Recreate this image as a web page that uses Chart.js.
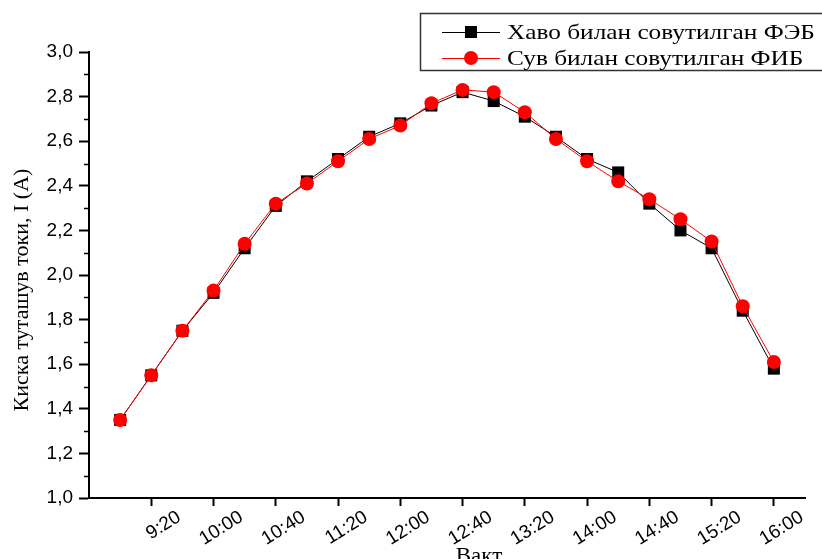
<!DOCTYPE html>
<html><head><meta charset="utf-8">
<script src="https://cdn.jsdelivr.net/npm/chart.js@4.4.0/dist/chart.umd.min.js"></script>
<style>html,body{margin:0;padding:0;background:#fff;overflow:hidden}#wrap{width:822px;height:559px;position:relative}canvas{display:block}</style>
</head><body><div id="wrap"><canvas id="c" width="822" height="559"></canvas></div>
<script>
const timeLabels = ['9:00','9:20','9:40','10:00','10:20','10:40','11:00','11:20','11:40','12:00','12:20','12:40','13:00','13:20','13:40','14:00','14:20','14:40','15:00','15:20','15:40','16:00'];
const airCooled = [1.35,1.55,1.75,1.92,2.12,2.31,2.42,2.52,2.62,2.68,2.76,2.82,2.78,2.71,2.62,2.52,2.46,2.32,2.20,2.12,1.84,1.58];
const waterCooled = [1.35,1.55,1.75,1.93,2.14,2.32,2.41,2.51,2.61,2.67,2.77,2.83,2.82,2.73,2.61,2.51,2.42,2.34,2.25,2.15,1.86,1.61];
const seriesNames = ['Хаво билан совутилган ФЭБ','Сув билан совутилган ФИБ'];
const xTickLabels = ['9:20','10:00','10:40','11:20','12:00','12:40','13:20','14:00','14:40','15:20','16:00'];
const yTickValues = [1.0,1.2,1.4,1.6,1.8,2.0,2.2,2.4,2.6,2.8,3.0];
const xTitle = 'Вакт';
const yTitle = 'Киска туташув токи, I (A)';
const xRange = ['8:40','16:20'];
const yRange = [1.0, 3.0];

const toMin = s => { const [h,m] = s.split(':').map(Number); return h*60+m; };
const fmtTime = v => Math.floor(v/60) + ':' + String(v%60).padStart(2,'0');
const pts = arr => arr.map((v,i) => ({x: toMin(timeLabels[i]), y: v}));

const extras = {
  id: 'extras',
  afterDraw(chart) {
    const ctx = chart.ctx, ys = chart.scales.y, ca = chart.chartArea;
    ctx.save();
    ctx.strokeStyle = '#000'; ctx.lineWidth = 1.5;
    for (let i = 0; i < yTickValues.length - 1; i++) {
      const v = (yTickValues[i] + yTickValues[i+1]) / 2;
      const py = Math.round(ys.getPixelForValue(v)) + 0.5;
      ctx.beginPath(); ctx.moveTo(ca.left - 5, py); ctx.lineTo(ca.left, py); ctx.stroke();
    }
    ctx.fillStyle = '#000';
    ctx.font = '22px "Liberation Serif"';
    ctx.textAlign = 'center'; ctx.textBaseline = 'middle';
    ctx.save(); ctx.translate(22, 290); ctx.rotate(-Math.PI/2); ctx.fillText(yTitle, 0, 0); ctx.restore();
    ctx.textBaseline = 'top';
    ctx.font = '23px "Liberation Serif"';
    ctx.fillText(xTitle, 479, 545);
    ctx.strokeStyle = '#333'; ctx.lineWidth = 1.5;
    ctx.strokeRect(420.5, 13.5, 420, 57);
    const rows = [32, 58];
    chart.data.datasets.forEach(ds => {
      const idx = seriesNames.indexOf(ds.label);
      const y = rows[idx];
      ctx.strokeStyle = ds.borderColor; ctx.lineWidth = 1;
      ctx.beginPath(); ctx.moveTo(442, y + 0.5); ctx.lineTo(500, y + 0.5); ctx.stroke();
      ctx.fillStyle = ds.backgroundColor;
      if (ds.pointStyle === 'rect') { ctx.fillRect(465, y - 6, 12, 12); }
      else { ctx.beginPath(); ctx.arc(471, y, 7, 0, Math.PI*2); ctx.fill(); }
      ctx.fillStyle = '#000';
      ctx.font = '22px "Liberation Serif"';
      ctx.textAlign = 'left'; ctx.textBaseline = 'middle';
      ctx.save(); ctx.translate(507, y + 1); ctx.scale(1.15, 1);
      ctx.fillText(ds.label, 0, 0);
      ctx.restore();
    });
    ctx.restore();
  }
};

new Chart(document.getElementById('c'), {
  type: 'line',
  data: {
    datasets: [
      { label: seriesNames[0], data: pts(airCooled), borderColor: '#000', backgroundColor: '#000', borderWidth: 1,
        pointStyle: 'rect', pointRadius: 8.5, pointHoverRadius: 8.5, pointBorderWidth: 0, order: 1 },
      { label: seriesNames[1], data: pts(waterCooled), borderColor: '#ff0000', backgroundColor: '#ff0000', borderWidth: 1,
        pointStyle: 'circle', pointRadius: 7, pointHoverRadius: 7, pointBorderWidth: 0, order: 0 }
    ]
  },
  options: {
    responsive: false, animation: false, devicePixelRatio: 1,
    layout: { padding: { top: 52, right: 17, left: 0, bottom: 0 } },
    plugins: { legend: { display: false }, tooltip: { enabled: false } },
    scales: {
      x: {
        type: 'linear', min: toMin(xRange[0]), max: toMin(xRange[1]),
        border: { display: true, color: '#000', width: 2 },
        grid: { drawOnChartArea: false, drawTicks: true, tickLength: 8, tickWidth: 2, tickColor: '#000' },
        ticks: { autoSkip: false, maxRotation: 32, minRotation: 32, labelOffset: 28, padding: 0,
          color: '#000', font: { family: 'Liberation Sans', size: 19 }, callback: v => fmtTime(v) },
        afterBuildTicks: s => { s.ticks = xTickLabels.map(l => ({ value: toMin(l) })); },
        afterFit: s => { s.height = 61; s.paddingLeft = 0; s.paddingRight = 0; }
      },
      y: {
        min: yRange[0], max: yRange[1],
        border: { display: true, color: '#000', width: 2 },
        grid: { drawOnChartArea: false, drawTicks: true, tickLength: 10, tickWidth: 2, tickColor: '#000' },
        ticks: { padding: 6, color: '#000', font: { family: 'Liberation Sans', size: 19 },
          callback: v => v.toFixed(1).replace('.', ',') },
        afterBuildTicks: s => { s.ticks = yTickValues.map(v => ({ value: v })); },
        afterFit: s => { s.width = 89; s.paddingTop = 0; s.paddingBottom = 0; }
      }
    }
  },
  plugins: [extras]
});
</script>
</body></html>
